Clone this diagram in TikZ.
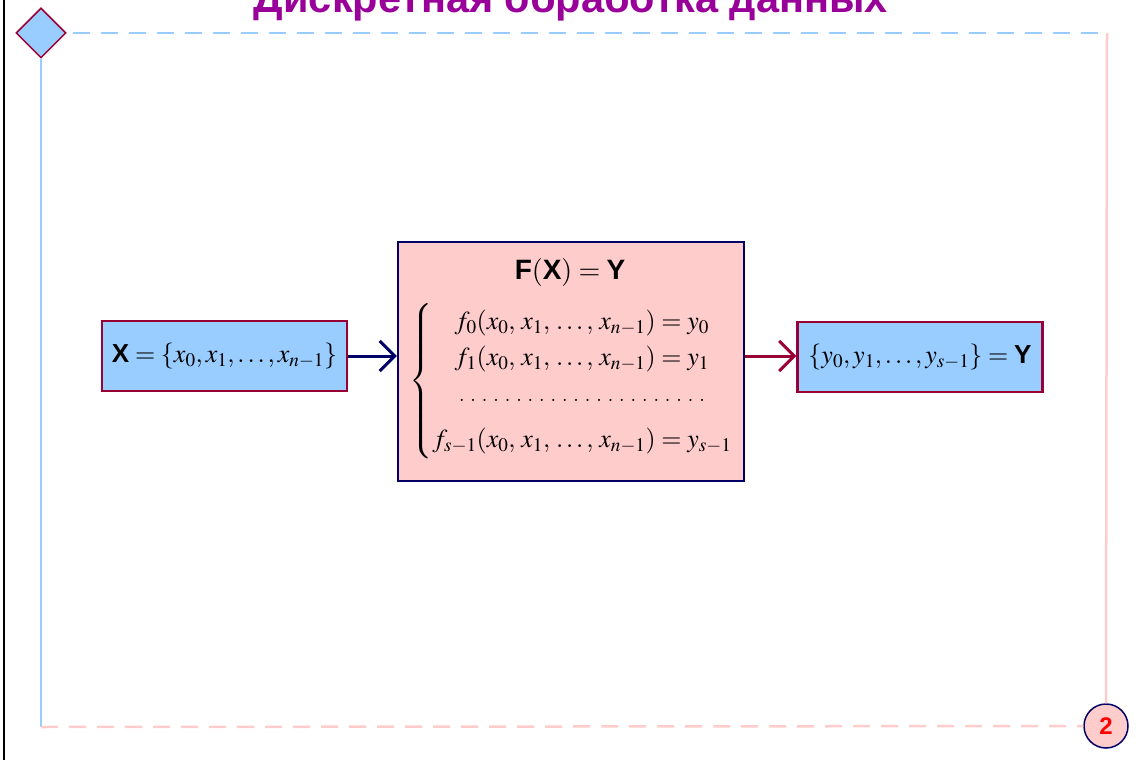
\documentclass[tikz,border=0pt]{standalone}
\usepackage{mathptmx}
\usepackage{fontspec}
\setsansfont{Liberation Sans}
\usepackage{tikz}
\usetikzlibrary{positioning, arrows.meta, shapes.geometric}

\definecolor{skyblue}{HTML}{99CCFF}
\definecolor{rosepink}{HTML}{FFCCCC}
\definecolor{wine}{HTML}{990033}
\definecolor{navy}{HTML}{000066}
\definecolor{plum}{HTML}{990099}

\newcommand{\bsf}[1]{\textsf{\bfseries #1}}

\begin{document}
\begin{tikzpicture}[
    x=1pt, y=-1pt,
    box/.style={draw=wine, line width=2.5pt, fill=skyblue,
                minimum width=245pt, minimum height=70pt,
                inner sep=0pt, font=\fontsize{26}{30}\selectfont},
    mainbox/.style={draw=navy, line width=2.5pt, fill=rosepink,
                minimum width=346pt, minimum height=239pt,
                inner sep=0pt},
    arr/.style={-{Straight Barb[length=15pt, width=30pt, line width=3pt]}, line width=3pt},
    frameblue/.style={draw=skyblue, line width=2.5pt},
    framepink/.style={draw=rosepink, line width=2.5pt},
    gap/.style={dash pattern=on 17pt off 11pt},
]
\useasboundingbox (0,0) rectangle (1136,760);

% Slide frame
\draw[line width=1.5pt] (4,0) -- (4,760);
\node[font=\fontsize{41.5}{46}\selectfont\sffamily\bfseries, text=plum, anchor=base]
  (title) at (571,13) {Дискретная обработка данных};
\node[diamond, draw=wine, line width=1.5pt, fill=skyblue,
      minimum width=50pt, minimum height=50pt, inner sep=0pt] (corner) at (41,33) {};
\node[circle, draw=navy, line width=1.5pt, fill=rosepink, minimum size=44pt,
      inner sep=0pt, font=\fontsize{24}{28}\selectfont\sffamily\bfseries, text=red]
  (page) at (1106,726) {2};
\coordinate (tr) at (1107,33);
\coordinate (bl) at (41,727);
\draw[frameblue, gap] (corner.east) ++(6,0) -- (tr);
\draw[frameblue] (corner.south) -- (bl);
\draw[framepink, gap] (bl) -- (page.west);
\draw[framepink] (tr) -- (page.north);

% Blocks
\node[mainbox] (func) at (571,361.5) {};
\node[font=\fontsize{28}{32}\selectfont] (fxy) at (570,272) {$\bsf{F}(\bsf{X})=\bsf{Y}$};
\node[font=\fontsize{26}{30}\selectfont] (system) at (571,381)
  {$\left\{\renewcommand{\arraystretch}{1.2}\begin{array}{@{}c@{}}
      f_0(x_0,\,x_1,\,\ldots,\,x_{n-1})=y_0\\
      f_1(x_0,\,x_1,\,\ldots,\,x_{n-1})=y_1\\
      \makebox[262pt]{\dotfill}\\[10pt]
      f_{s-1}(x_0,\,x_1,\,\ldots,\,x_{n-1})=y_{s-1}
    \end{array}\right.$};
\node[box] (input) at (224.5,356) {$\bsf{X}=\{x_0,x_1,\ldots,x_{n-1}\}$};
\node[box] (output) at (920,357) {$\{y_0,y_1,\ldots,y_{s-1}\}=\bsf{Y}$};

% Connectors
\draw[arr, navy] (input) -- (func.west |- input);
\draw[arr, wine] (func.east |- input) -- (output.west |- input);

\end{tikzpicture}
\end{document}
